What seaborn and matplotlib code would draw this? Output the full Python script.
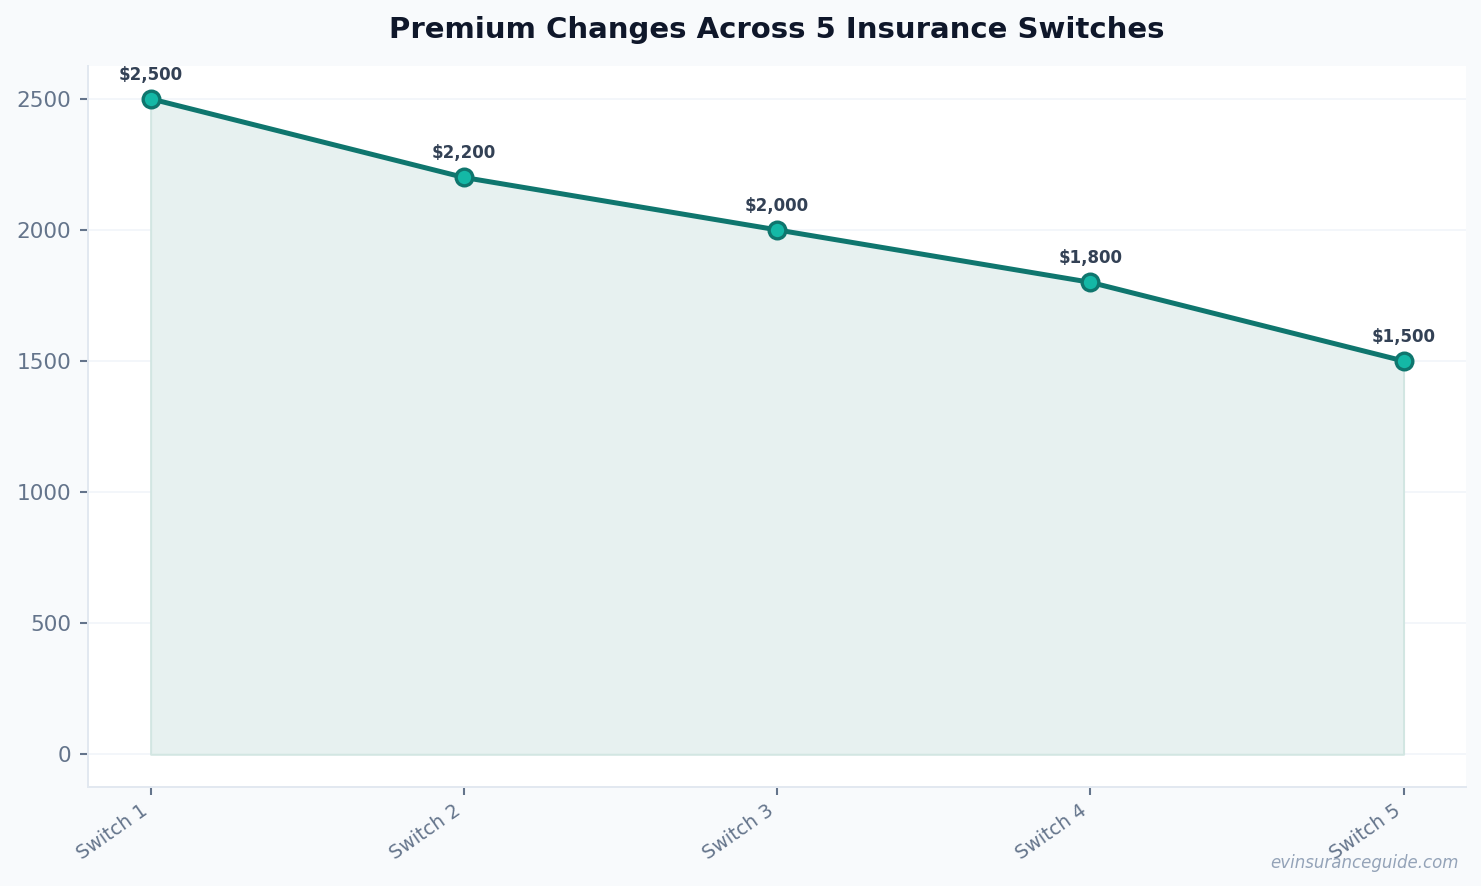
import numpy as np
import pandas as pd
import seaborn as sns
import matplotlib.pyplot as plt

# 数据
switches = ["Switch 1", "Switch 2", "Switch 3", "Switch 4", "Switch 5"]
premiums = [2500, 2200, 2000, 1800, 1500]

df = pd.DataFrame({"switch": switches, "premium": premiums})
df["pos"] = np.arange(len(df))

sns.set_theme(style="white")
plt.rcParams['font.family'] = ['DejaVu Sans']

line_color = "#0f766e"
marker_face = "#14b8a6"
tick_color = "#64748b"

fig, ax = plt.subplots(figsize=(1481 / 120, 886 / 120), dpi=120)
fig.patch.set_facecolor("#f8fafc")
ax.set_facecolor("white")
fig.subplots_adjust(left=0.0594, right=0.99, top=0.9255, bottom=0.1117)

# 面积填充（不透明，遮住网格线）
ax.fill_between(df["pos"], df["premium"], 0, facecolor="#e7f1f0",
                edgecolor="#d2e6e2", linewidth=1.2, zorder=1.5)

sns.lineplot(data=df, x="pos", y="premium", ax=ax, color=line_color, linewidth=3,
             marker="o", markersize=10, markerfacecolor=marker_face,
             markeredgecolor=line_color, markeredgewidth=2, zorder=3)

# 数值标签
for x, y in zip(df["pos"], df["premium"]):
    ax.annotate(f"\\${y:,}", (x, y), xytext=(0, 9), textcoords="offset points",
                ha="center", va="bottom", fontsize=10, fontweight="bold", color="#334155")

ax.set_xticks(df["pos"])
ax.set_xticklabels(switches, rotation=35, ha="right", fontsize=11.5, color=tick_color)
ax.tick_params(axis="y", labelsize=13, labelcolor=tick_color, pad=5)
ax.tick_params(axis="both", length=5, color=tick_color, bottom=True, left=True)
ax.set_xlabel("")
ax.set_ylabel("")
ax.set_yticks([0, 500, 1000, 1500, 2000, 2500])
ax.margins(x=0.05, y=0.05)

ax.yaxis.grid(True, color="#f1f5f9", linewidth=1)
ax.set_axisbelow(True)
for side in ["top", "right"]:
    ax.spines[side].set_visible(False)
for side in ["left", "bottom"]:
    ax.spines[side].set_color("#e2e8f0")
    ax.spines[side].set_linewidth(1.2)

ax.set_title("Premium Changes Across 5 Insurance Switches", fontsize=17.5,
             fontweight="bold", color="#0f172a", pad=17)

fig.text(0.985, 0.016, "evinsuranceguide.com", ha="right", va="bottom",
         fontsize=10, style="italic", color="#94a3b8")

plt.savefig("out.png", dpi=120, facecolor=fig.get_facecolor())
plt.close()
